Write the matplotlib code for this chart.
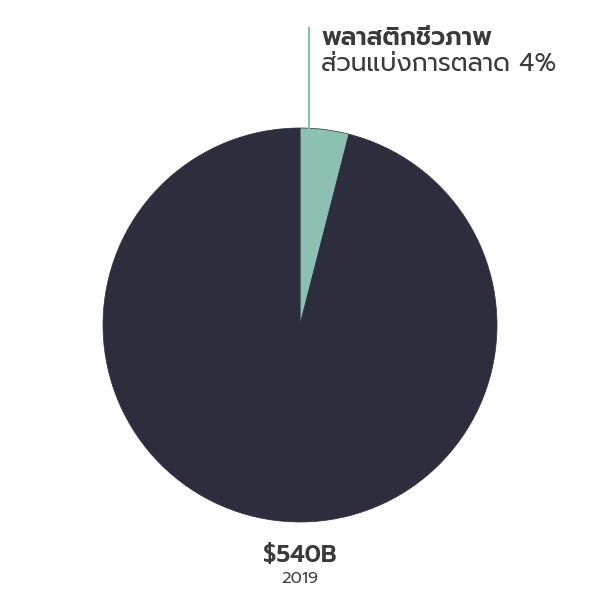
import numpy as np
import matplotlib.pyplot as plt

plt.rcParams['font.family'] = ['Prompt', 'Noto Sans Thai', 'DejaVu Sans']

# data
labels = ['พลาสติกชีวภาพ', 'อื่นๆ']
shares = [4, 96]
colors = ['#8cc0b1', '#2e2d3e']
total_label = '$540B'
year_label = '2019'
share_caption = 'ส่วนแบ่งการตลาด 4%'

fig = plt.figure(figsize=(6, 6), dpi=100)
ax = fig.add_axes([0, 0, 1, 1])

ax.pie(shares, colors=colors, startangle=90, counterclock=False,
       center=(300, 275), radius=197, frame=True,
       wedgeprops=dict(linewidth=0.5, edgecolor='#2e2d3e'))
ax.set_xlim(0, 600)
ax.set_ylim(0, 600)
ax.set_aspect('equal')
ax.axis('off')

# leader line
ax.plot([309, 309], [472, 572], color='#8cc0b1', lw=1.5)
ax.text(321, 555, labels[0], fontsize=18, fontweight='semibold', color='#3a3a3a', va='baseline', ha='left')
ax.text(321, 529, share_caption, fontsize=18, fontweight='normal', color='#3a3a3a', va='baseline', ha='left')

ax.text(300, 45, total_label, fontsize=17, fontweight='semibold', color='#3a3a3a', ha='center', va='center')
ax.text(300, 21, year_label, fontsize=12, fontweight='normal', color='#444444', ha='center', va='center')

fig.savefig('out.png', dpi=100)
